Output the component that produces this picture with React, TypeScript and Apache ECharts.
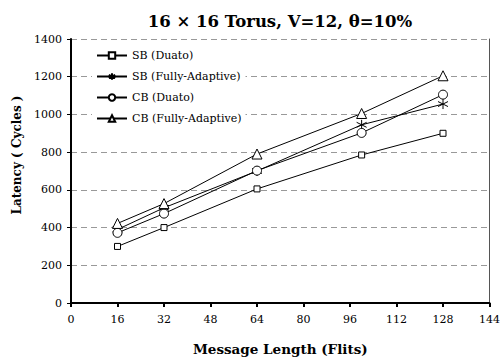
import React, { useEffect, useRef } from "react";
import * as echarts from "echarts";

const messageLengths = [16, 32, 64, 100, 128];
const sbDuato = [300, 400, 605, 785, 900];
const sbFullyAdaptive = [390, 505, 700, 945, 1055];
const cbDuato = [372, 474, 702, 902, 1105];
const cbFullyAdaptive = [422, 527, 790, 1005, 1205];
const seriesNames = ["SB (Duato)", "SB (Fully-Adaptive)", "CB (Duato)", "CB (Fully-Adaptive)"];

const FONT = "DejaVu Serif";
const asterisk = "path://M5,0L5,10M0.7,2.5L9.3,7.5M0.7,7.5L9.3,2.5";

export default function App() {
  const ref = useRef<HTMLDivElement>(null);
  useEffect(() => {
    if (!ref.current) return;
    const chart = echarts.init(ref.current, null, { renderer: "svg" });
    const pairs = (ys: number[]) => messageLengths.map((x, i) => [x, ys[i]]);
    const base = {
      type: "line" as const,
      lineStyle: { color: "#000", width: 1 },
      itemStyle: { color: "#fff", borderColor: "#000", borderWidth: 1 },
      emphasis: { disabled: true },
    };
    chart.setOption({
      animation: false,
      backgroundColor: "#fff",
      title: {
        text: "16 × 16 Torus, V=12, θ=10%",
        left: 275,
        textAlign: "center",
        top: 8,
        textStyle: { fontFamily: FONT, fontWeight: "bold", fontSize: 16.5, color: "#000" },
      },
      legend: {
        orient: "vertical",
        left: 92,
        top: 47,
        padding: [2, 4],
        backgroundColor: "#fff",
        itemWidth: 30,
        itemHeight: 8,
        itemGap: 8,
        data: seriesNames,
        textStyle: { fontFamily: FONT, fontSize: 11, color: "#000", lineHeight: 13 },
      },
      grid: { left: 71, right: 11, top: 39, bottom: 60 },
      xAxis: {
        type: "value",
        min: 0,
        max: 144,
        interval: 16,
        name: "Message Length (Flits)",
        nameLocation: "middle",
        nameGap: 39,
        nameTextStyle: { fontFamily: FONT, fontWeight: "bold", fontSize: 13.5, color: "#000" },
        axisLine: { onZero: false, lineStyle: { color: "#000", width: 2 } },
        axisTick: { show: true, inside: false, length: 4, lineStyle: { color: "#000", width: 2 } },
        axisLabel: { fontFamily: FONT, fontSize: 11, color: "#000", margin: 11 },
        splitLine: { show: false },
      },
      yAxis: [
        {
          type: "value",
          min: 0,
          max: 1400,
          interval: 200,
          name: "Latency ( Cycles )",
          nameLocation: "middle",
          nameGap: 46,
          nameTextStyle: { fontFamily: FONT, fontWeight: "bold", fontSize: 12, color: "#000", padding: [0, 0, 0, 32] },
          axisLine: { show: true, lineStyle: { color: "#000", width: 2 } },
          axisTick: { show: true, length: 4, lineStyle: { color: "#000", width: 1 } },
          axisLabel: { fontFamily: FONT, fontSize: 11, color: "#000", margin: 9, formatter: (v: number) => String(v) },
          splitLine: { show: true, lineStyle: { color: "#999", width: 1, type: [6, 4] } },
        },
        {
          type: "value",
          position: "right",
          min: 0,
          max: 1400,
          interval: 200,
          axisLine: { show: true, lineStyle: { color: "#555", width: 1 } },
          axisTick: { show: false },
          axisLabel: { show: false },
          splitLine: { show: false },
        },
      ],
      series: [
        { ...base, name: seriesNames[0], data: pairs(sbDuato), symbol: "rect", symbolSize: 6 },
        { ...base, name: seriesNames[1], data: pairs(sbFullyAdaptive), symbol: asterisk, symbolSize: 10,
          itemStyle: { color: "none", borderColor: "#000", borderWidth: 1 } },
        { ...base, name: seriesNames[2], data: pairs(cbDuato), symbol: "circle", symbolSize: 9 },
        { ...base, name: seriesNames[3], data: pairs(cbFullyAdaptive), symbol: "triangle", symbolSize: 10 },
      ],
    });
    return () => chart.dispose();
  }, []);
  return <div ref={ref} style={{ width: 503, height: 363, position: "absolute", left: 0, top: 0 }} />;
}
